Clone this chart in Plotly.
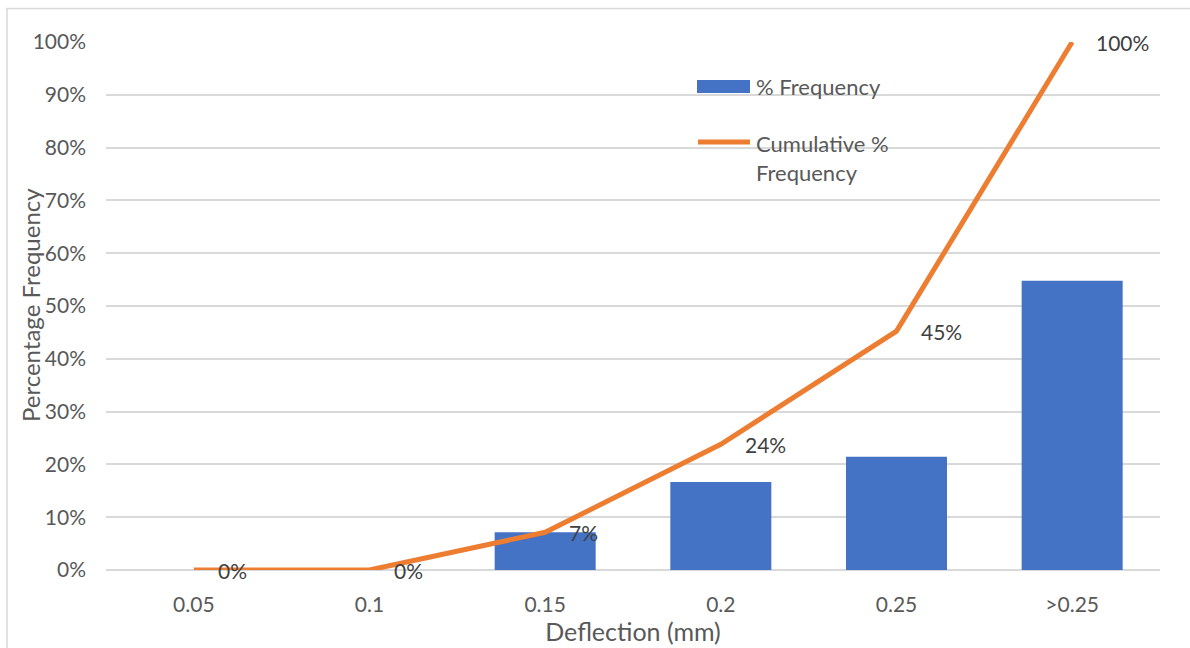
import plotly.graph_objects as go

# Deflection bins and their share of the 42 readings
categories = ["0.05", "0.1", "0.15", "0.2", "0.25", ">0.25"]
counts = [0, 0, 3, 7, 9, 23]
total = sum(counts)
pct_frequency = [c / total for c in counts]
cumulative = []
running = 0
for c in counts:
    running += c
    cumulative.append(running / total)

y_ticks = [i / 10 for i in range(11)]
y_tick_labels = [f"{i * 10}%" for i in range(11)]

BLUE = "#4472C4"
ORANGE = "#ED7D31"
GRID = "#D9D9D9"
TEXT = "#595959"
FONT = "Lato, 'Open Sans', sans-serif"

# plot-area geometry in pixels, used to place the frame, legend and y title
L, R, T, B = 106, 1160, 42, 570
W, H = R - L, B - T


def px(x):
    return (x - L) / W


def py(y):
    return (B - y) / H


fig = go.Figure()
fig.add_trace(go.Bar(
    x=categories, y=pct_frequency, name="% Frequency",
    marker=dict(color=BLUE, line=dict(width=0)),
    width=0.575, showlegend=False,
))
fig.add_trace(go.Scatter(
    x=categories, y=cumulative, name="Cumulative % Frequency",
    mode="lines", line=dict(color=ORANGE, width=5),
    showlegend=False,
))

# value labels beside each cumulative point
for i, v in enumerate(cumulative):
    fig.add_annotation(
        x=i, y=v, text=f"{v:.0%}", showarrow=False,
        xanchor="left", yanchor="middle", xshift=22,
        font=dict(family=FONT, size=21, color="#404040"),
    )

# legend
fig.add_shape(type="rect", xref="paper", yref="paper",
              x0=px(697), x1=px(750), y0=py(93), y1=py(80),
              fillcolor=BLUE, line=dict(width=0))
fig.add_shape(type="line", xref="paper", yref="paper",
              x0=px(698), x1=px(750), y0=py(142), y1=py(142),
              line=dict(color=ORANGE, width=5))
for txt, yy in [("% Frequency", 86), ("Cumulative %", 143), ("Frequency", 172)]:
    fig.add_annotation(xref="paper", yref="paper", x=px(754), y=py(yy),
                       text=txt, showarrow=False, xanchor="left", yanchor="middle",
                       font=dict(family=FONT, size=22, color=TEXT))

# y-axis title
fig.add_annotation(xref="paper", yref="paper", x=px(30), y=py(305),
                   text="Percentage Frequency", textangle=-90, showarrow=False,
                   xanchor="center", yanchor="middle",
                   font=dict(family=FONT, size=24, color=TEXT))

# chart frame
fig.add_shape(type="rect", xref="paper", yref="paper",
              x0=px(7), x1=px(1195), y0=py(655), y1=py(8.5),
              line=dict(color=GRID, width=1.5), layer="below")

fig.update_layout(
    width=1190, height=648,
    margin=dict(l=L, r=1190 - R, t=T, b=648 - B),
    paper_bgcolor="white", plot_bgcolor="white",
    font=dict(family=FONT, size=21, color=TEXT),
    showlegend=False,
    xaxis=dict(
        type="category", automargin=False,
        title=dict(text="Deflection (mm)", font=dict(size=25, color=TEXT), standoff=6),
        showgrid=False, showline=False, ticks="", ticklabelstandoff=20,
        range=[-0.5, 5.5],
    ),
    yaxis=dict(
        automargin=False,
        range=[0, 1], tickvals=y_ticks, ticktext=y_tick_labels,
        showgrid=True, gridcolor=GRID, gridwidth=1.5,
        zeroline=True, zerolinecolor=GRID, zerolinewidth=1.5,
        showline=False, ticks="", ticklabelstandoff=19,
    ),
)

fig.write_html("out.html")
